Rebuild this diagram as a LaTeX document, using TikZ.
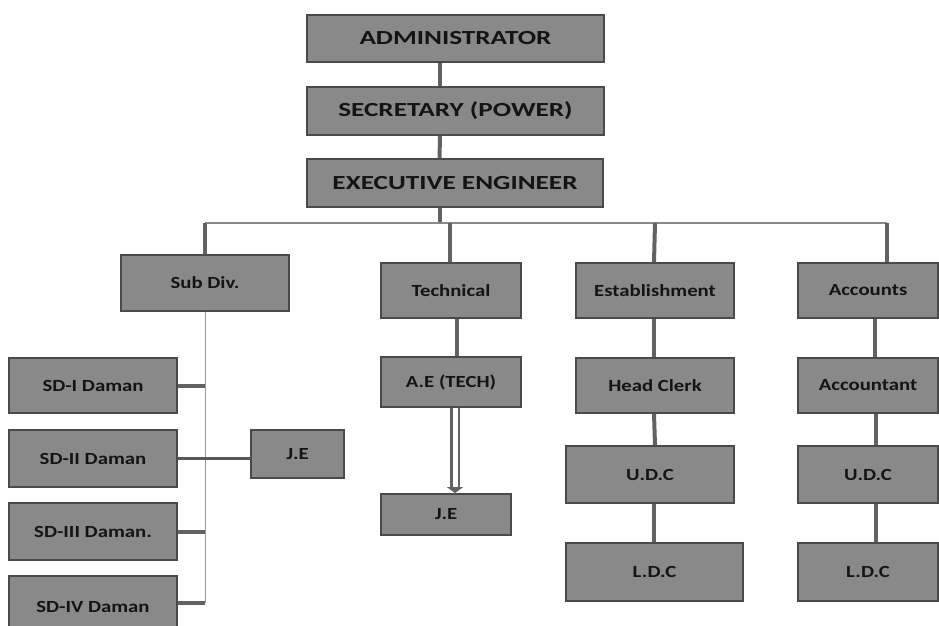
\documentclass[tikz,border=0pt]{standalone}
\usepackage{fontspec}
\setmainfont{Carlito}
\newfontfamily\boxfont[FakeStretch=1.22]{Carlito}
\newfontfamily\topfont[FakeStretch=1.36]{Carlito}
\usetikzlibrary{arrows.meta}
\definecolor{boxfill}{HTML}{898989}
\definecolor{boxline}{HTML}{4A4A4A}
\definecolor{conn}{HTML}{626262}
\definecolor{txt}{HTML}{141414}
\tikzset{
  orgbox/.style={draw=boxline, line width=1.8pt, fill=boxfill, rectangle, inner sep=0pt,
     text=txt, font=\boxfont\bfseries\fontsize{17}{19}\selectfont},
  topbox/.style={orgbox, font=\topfont\bfseries\fontsize{20}{22}\selectfont},
  thick conn/.style={draw=conn, line width=4pt},
  thin conn/.style={draw=conn!75, line width=1.4pt},
}
\begin{document}
\begin{tikzpicture}[x=1pt,y=-1pt]
\clip (0,0) rectangle (939,626);
\fill[white] (0,0) rectangle (939,626);
% top chain
\node[topbox, minimum width=297pt, minimum height=47pt] (adm) at (455.5,38.5) {ADMINISTRATOR};
\node[topbox, minimum width=297pt, minimum height=48pt] (sec) at (455.5,111) {SECRETARY (POWER)};
\node[topbox, minimum width=296pt, minimum height=48pt] (exe) at (455,183) {EXECUTIVE ENGINEER};
% departments
\node[orgbox, minimum width=168pt, minimum height=56pt] (sub) at (205,283) {Sub Div.};
\node[orgbox, minimum width=140pt, minimum height=55pt] (tech) at (451,290.5) {Technical};
\node[orgbox, minimum width=158pt, minimum height=55pt] (est) at (655,290.5) {Establishment};
\node[orgbox, minimum width=140pt, minimum height=55pt] (acc) at (868,290.5) {Accounts};
% technical
\node[orgbox, minimum width=140pt, minimum height=50pt] (ae) at (451,382) {A.E (TECH)};
\node[orgbox, minimum width=130pt, minimum height=41pt] (jeb) at (446,514.5) {J.E};
% establishment
\node[orgbox, minimum width=158pt, minimum height=55pt] (hc) at (655,385.5) {Head Clerk};
\node[orgbox, minimum width=168pt, minimum height=57pt] (udca) at (650,474.5) {U.D.C};
\node[orgbox, minimum width=177pt, minimum height=58pt] (ldca) at (654.5,572) {L.D.C};
% accounts
\node[orgbox, minimum width=140pt, minimum height=55pt] (acct) at (868,385.5) {Accountant};
\node[orgbox, minimum width=140pt, minimum height=57pt] (udcb) at (868,474.5) {U.D.C};
\node[orgbox, minimum width=140pt, minimum height=58pt] (ldcb) at (868,572) {L.D.C};
% sub divisions
\node[orgbox, minimum width=168pt, minimum height=55pt] (sda) at (93,385.5) {SD-I Daman};
\node[orgbox, minimum width=168pt, minimum height=57pt] (sdb) at (93,458.5) {SD-II Daman};
\node[orgbox, minimum width=168pt, minimum height=57pt] (sdc) at (93,531.5) {SD-III Daman.};
\node[orgbox, minimum width=168pt, minimum height=62pt, anchor=north] (sdd) at (93,575) {\raisebox{-2pt}{SD-IV Daman}};
\node[orgbox, minimum width=93pt, minimum height=48pt] (jea) at (297.5,454) {J.E};
% coordinates
\coordinate (bus) at (440,223);
\coordinate (busl) at (205,223);
\coordinate (busr) at (887,223);
\coordinate (sdbot) at (205,603);
% connectors top
\draw[thick conn] ([xshift=-15.5pt]adm.south) -- ([xshift=-15.5pt]sec.north);
\draw[thick conn] ([xshift=-15.5pt]sec.south) -- ([xshift=-15.5pt]exe.north);
\draw[thick conn] ([xshift=-15pt]exe.south) -- (bus);
\draw[thin conn] (busl) -- (busr);
\draw[thick conn] (busl) -- (sub.north);
\draw[thick conn] (busl -| 450,0) -- ([xshift=-1pt]tech.north);
\draw[thick conn] (busl -| est.north) -- ([xshift=-1pt]est.north);
\draw[thick conn] (busr) -- (busr |- acc.north);
% technical
\draw[thick conn] ([xshift=6pt]tech.south) -- ([xshift=6pt]tech.south |- ae.north);
\draw[draw=conn, line width=2.6pt, double=white, double distance=5pt, -{Triangle[width=16pt,length=6pt]}]
   ([xshift=4pt]ae.south) -- ([xshift=4pt]ae.south |- jeb.north);
% establishment
\draw[thick conn] ([xshift=-1pt]est.south) -- ([xshift=-1pt]hc.north);
\draw[thick conn] ([xshift=-1pt]hc.south) -- (hc.south |- udca.north);
\draw[thick conn] ([xshift=-1pt]udca.south -| hc.south) -- ([xshift=-1pt]hc.south |- ldca.north);
% accounts
\draw[thick conn] ([xshift=7pt]acc.south) -- ([xshift=7pt]acc.south |- acct.north);
\draw[thick conn] ([xshift=8pt]acct.south) -- ([xshift=8pt]acct.south |- udcb.north);
\draw[thick conn] ([xshift=8pt]udcb.south) -- ([xshift=8pt]udcb.south |- ldcb.north);
% sub divisions
\draw[draw=conn!65, line width=1pt] (sub.south) -- (sdbot);
\draw[thick conn] (sda.east) -- (sda.east -| sub.south);
\draw[draw=conn!90!black, line width=2.2pt] (sdb.east) -- (sdb.east -| jea.west);
\draw[thick conn] (sdc.east) -- (sdc.east -| sub.south);
\draw[thick conn] (sdd.east |- sdbot) -- (sdbot);
\end{tikzpicture}
\end{document}
